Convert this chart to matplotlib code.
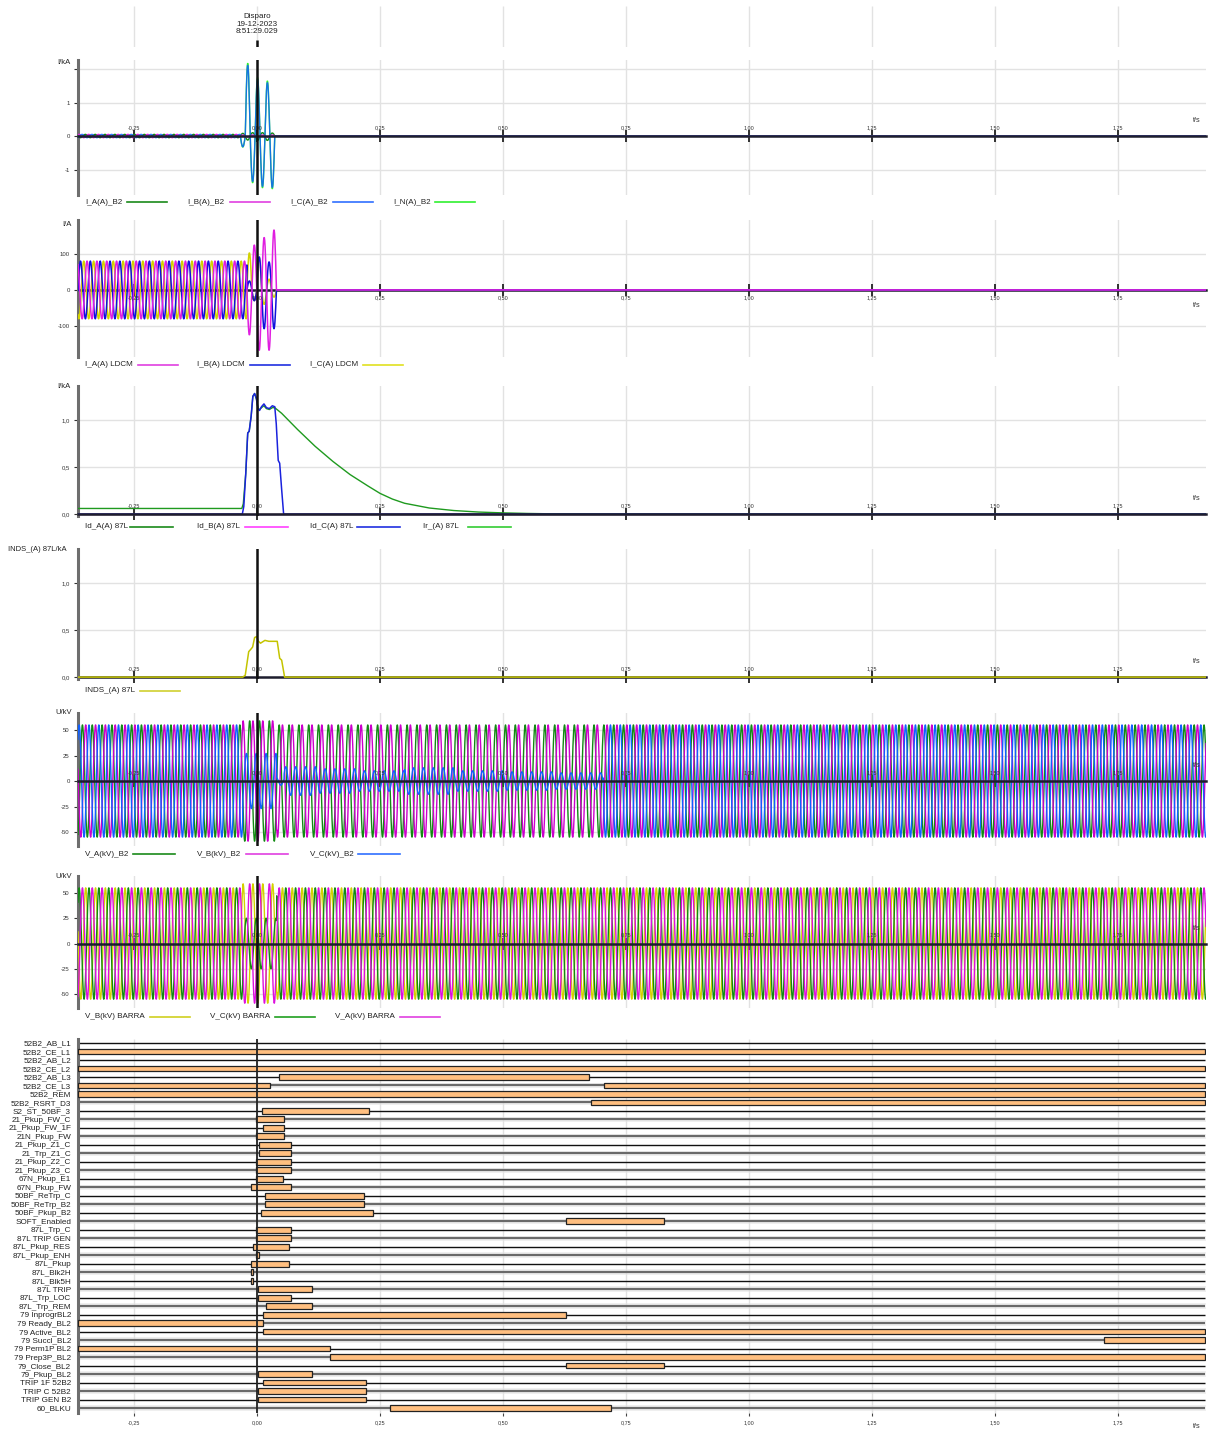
import numpy as np
import matplotlib
matplotlib.use('Agg')
import matplotlib.pyplot as plt
from matplotlib.lines import Line2D

plt.rcParams['font.family'] = ['Liberation Sans', 'DejaVu Sans']

W, H = 1210, 1433
F_HZ = 50
T_MIN, T_MAX = -0.364, 1.929

XTICKS = [-0.25, 0.0, 0.25, 0.5, 0.75, 1.0, 1.25, 1.5, 1.75]
XTICK_LABELS = ['-0,25', '0,00', '0,25', '0,50', '0,75', '1,00', '1,25', '1,50', '1,75']

## ---- panel 1 : I B2 (kA) ----
I_B2_LABELS = ['I_A(A)_B2', 'I_B(A)_B2', 'I_C(A)_B2', 'I_N(A)_B2']
I_B2_PRE_AMP = [0.05, 0.05, 0.05, 0.0]
I_B2_PHASE = [0, -120, 120, 0]
I_B2_FAULT_T0 = -0.029          # centre of first fault half cycle
I_A_B2_FAULT = [0.08, -0.12, 0.10, -0.13, 0.10, -0.13, 0.09]
I_B_B2_FAULT = [0.03, -0.03, 0.03, -0.03, 0.03, -0.03, 0.03]
I_C_B2_FAULT = [-0.32, 2.12, -1.36, 1.70, -1.51, 1.60, -1.54]
I_N_B2_FAULT = [-0.33, 2.18, -1.40, 1.75, -1.55, 1.65, -1.58]

## ---- panel 2 : I LDCM (A) ----
I_LDCM_LABELS = ['I_A(A) LDCM', 'I_B(A) LDCM', 'I_C(A) LDCM']
I_LDCM_PRE_AMP = [80, 80, 80]
I_LDCM_PHASE = [180, 60, 300]
I_LDCM_FAULT_T0 = -0.0156
I_A_LDCM_FAULT = [-125, 125, -168, 146, -168, 167]
I_B_LDCM_FAULT = [25, -30, 92, -108, 78, -108]
I_C_LDCM_FAULT = [103, -30, 90, -40, 30, -20]

## ---- panel 3 : 87L differential / restraint (kA) ----
ID_LABELS = ['Id_A(A) 87L', 'Id_B(A) 87L', 'Id_C(A) 87L', 'Ir_(A) 87L']
ID_C_T = [-0.364, -0.030, -0.027, -0.023, -0.019, -0.016, -0.012, -0.0086, -0.005, -0.0014,
          0.002, 0.005, 0.009, 0.014, 0.019, 0.025, 0.031, 0.036, 0.039, 0.043, 0.046,
          0.050, 0.054, 1.929]
ID_C_V = [0.0, 0.0, 0.08, 0.43, 0.86, 0.88, 1.04, 1.25, 1.28, 1.23,
          1.12, 1.10, 1.14, 1.17, 1.13, 1.12, 1.15, 1.14, 0.96, 0.57, 0.54,
          0.26, 0.0, 0.0]
IR_T = [-0.364, -0.031, -0.028, -0.023, -0.019, -0.016, -0.012, -0.0086, -0.005, -0.0014,
        0.002, 0.005, 0.009, 0.014, 0.019, 0.025, 0.031, 0.036, 0.050, 0.082, 0.118,
        0.154, 0.189, 0.225, 0.25, 0.275, 0.30, 0.35, 0.40, 0.45, 0.50, 0.55, 0.60, 0.70,
        1.929]
IR_V = [0.06, 0.06, 0.11, 0.43, 0.86, 0.88, 1.04, 1.25, 1.28, 1.22,
        1.12, 1.11, 1.13, 1.15, 1.12, 1.11, 1.13, 1.13, 1.07, 0.90, 0.72,
        0.56, 0.42, 0.30, 0.22, 0.16, 0.115, 0.065, 0.038, 0.022, 0.013, 0.007, 0.003, 0.0,
        0.0]

## ---- panel 4 : INDS (kA) ----
INDS_LABEL = 'INDS_(A) 87L'
INDS_T = [-0.364, -0.029, -0.024, -0.017, -0.012, -0.009, -0.005, -0.001, 0.003, 0.007,
          0.016, 0.024, 0.041, 0.046, 0.050, 0.056, 1.929]
INDS_V = [0.0, 0.0, 0.02, 0.27, 0.30, 0.32, 0.42, 0.43, 0.38, 0.36,
          0.39, 0.38, 0.38, 0.20, 0.18, 0.0, 0.0]

## ---- panel 5 : V B2 (kV) ----  amplitude steps (start time, peak kV)
V_B2_LABELS = ['V_A(kV)_B2', 'V_B(kV)_B2', 'V_C(kV)_B2']
V_B2_PHASE = [0, -120, 120]
V_A_B2_STEPS = [(-0.364, 55), (-0.029, 59), (0.040, 55)]
V_B_B2_STEPS = [(-0.364, 55), (-0.029, 59), (0.040, 55)]
V_C_B2_STEPS = [(-0.364, 55), (-0.029, 27), (0.040, 4), (0.055, 14), (0.12, 12),
                (0.20, 10), (0.30, 13), (0.40, 10), (0.50, 9), (0.60, 8), (0.703, 55)]

## ---- panel 6 : V BARRA (kV) ----
V_BAR_LABELS = ['V_B(kV) BARRA', 'V_C(kV) BARRA', 'V_A(kV) BARRA']
V_BAR_PHASE = [-120, 120, 0]
V_B_BAR_STEPS = [(-0.364, 55), (-0.029, 59), (0.040, 55)]
V_C_BAR_STEPS = [(-0.364, 55), (-0.029, 25), (0.040, 55)]
V_A_BAR_STEPS = [(-0.364, 55), (-0.029, 59), (0.040, 55)]

## ---- panel 7 : digital channels ----
DIG_LABELS = ['52B2_AB_L1', '52B2_CE_L1', '52B2_AB_L2', '52B2_CE_L2', '52B2_AB_L3',
              '52B2_CE_L3', '52B2_REM', '52B2_RSRT_D3', 'S2_ST_50BF_3', '21_Pkup_FW_C',
              '21_Pkup_FW_1F', '21N_Pkup_FW', '21_Pkup_Z1_C', '21_Trp_Z1_C', '21_Pkup_Z2_C',
              '21_Pkup_Z3_C', '67N_Pkup_E1', '67N_Pkup_FW', '50BF_ReTrp_C', '50BF_ReTrp_B2',
              '50BF_Pkup_B2', 'SOFT_Enabled', '87L_Trp_C', '87L TRIP GEN', '87L_Pkup_RES',
              '87L_Pkup_ENH', '87L_Pkup', '87L_Blk2H', '87L_Blk5H', '87L TRIP',
              '87L_Trp_LOC', '87L_Trp_REM', '79 InprogrBL2', '79 Ready_BL2', '79 Active_BL2',
              '79 Succl_BL2', '79 Perm1P BL2', '79 Prep3P_BL2', '79_Close_BL2', '79_Pkup_BL2',
              'TRIP 1F 52B2', 'TRIP C 52B2', 'TRIP GEN B2', '60_BLKU']
DIG_ON = [
    [], [(-0.364, 1.927)], [], [(-0.364, 1.927)], [(0.045, 0.675)],
    [(-0.364, 0.026), (0.705, 1.927)], [(-0.364, 1.927)], [(0.679, 1.927)],
    [(0.0095, 0.228)], [(-0.002, 0.055)],
    [(0.013, 0.055)], [(-0.002, 0.055)], [(0.003, 0.070)], [(0.003, 0.070)],
    [(-0.002, 0.070)],
    [(-0.002, 0.070)], [(-0.002, 0.053)], [(-0.013, 0.068)], [(0.016, 0.218)],
    [(0.016, 0.218)],
    [(0.0075, 0.235)], [(0.627, 0.827)], [(-0.002, 0.068)], [(-0.002, 0.068)],
    [(-0.0075, 0.064)],
    [(-0.002, 0.004)], [(-0.012, 0.064)], [(-0.013, -0.0075)], [(-0.013, -0.0075)],
    [(0.001, 0.112)],
    [(0.001, 0.070)], [(0.018, 0.112)], [(0.013, 0.629)], [(-0.364, 0.013)],
    [(0.013, 1.927)],
    [(1.721, 1.927)], [(-0.364, 0.148)], [(0.148, 1.927)], [(0.627, 0.827)],
    [(0.001, 0.112)],
    [(0.013, 0.221)], [(0.001, 0.221)], [(0.001, 0.221)], [(0.270, 0.719)],
]

TRIGGER_TEXT = 'Disparo\n19-12-2023\n8:51:29.029'

# colours
GREEN = '#128a12'
MAGENTA = '#e01ee0'
BLUE = '#1060ff'
DBLUE = '#1010dd'
LIME = '#30f030'
YELLOW = '#d2d200'
GRID = '#e2e2e2'

fig = plt.figure(figsize=(W / 100, H / 100), dpi=100)


def add_ax(l, t, r, b):
    return fig.add_axes([l / W, 1 - b / H, (r - l) / W, (b - t) / H])


def ftext(x, y, s, **kw):
    fig.text(x / W, 1 - y / H, s, **kw)


def fline(x0, x1, y, color, lw=1.2):
    fig.add_artist(Line2D([x0 / W, x1 / W], [1 - y / H, 1 - y / H], color=color, lw=lw,
                          transform=fig.transFigure))


def sine_env(steps, phase, t_end=T_MAX, n=60):
    t = np.linspace(T_MIN, t_end, int((t_end - T_MIN) * F_HZ * n))
    starts = np.array([s[0] for s in steps])
    amps = np.array([s[1] for s in steps])
    idx = np.searchsorted(starts, t, side='right') - 1
    a = amps[np.clip(idx, 0, None)]
    return t, a * np.sin(2 * np.pi * F_HZ * t + np.deg2rad(phase))


def half_cycles(t_first, peaks):
    half = 0.5 / F_HZ
    ts, ys = [], []
    for k, p in enumerate(peaks):
        tc = t_first + k * half
        tt = np.linspace(tc - half / 2, tc + half / 2, 14)
        ts.append(tt)
        ys.append(p * np.cos(np.pi * (tt - tc) / half))
    return np.concatenate(ts), np.concatenate(ys)


def fault_trace(pre_amp, phase, t_first, peaks):
    half = 0.5 / F_HZ
    t_start = t_first - half / 2
    t_pre = np.linspace(T_MIN, t_start, int((t_start - T_MIN) * F_HZ * 60))
    y_pre = pre_amp * np.sin(2 * np.pi * F_HZ * (t_pre - t_start) + np.deg2rad(phase))
    t_f, y_f = half_cycles(t_first, peaks)
    t_end = t_f[-1]
    return (np.concatenate([t_pre, t_f, [t_end, T_MAX]]),
            np.concatenate([y_pre, y_f, [0, 0]]))


def setup_analog(ax, ylim, yticks, yticklabels, labels_above=True, zero_on_top=False):
    ax.set_xlim(T_MIN, T_MAX)
    ax.set_ylim(*ylim)
    ax.spines['top'].set_visible(False)
    ax.spines['right'].set_visible(False)
    ax.spines['left'].set_color('#6e6e6e')
    ax.spines['left'].set_linewidth(2.2)
    ax.spines['bottom'].set_position(('data', 0))
    ax.spines['bottom'].set_color('#1e1e2e')
    ax.spines['bottom'].set_linewidth(1.8)
    ax.spines['bottom'].set_zorder(6 if zero_on_top else 1.5)
    ax.set_xticks(XTICKS)
    ax.tick_params(axis='x', direction='inout', length=9, width=1.3, color='#222',
                   labelbottom=False)
    ax.set_yticks(yticks)
    ax.set_yticklabels(yticklabels)
    ax.tick_params(axis='y', direction='out', length=3, width=0.8, color='#333',
                   labelsize=4.3, labelcolor='#333', pad=3)
    ax.grid(True, color=GRID, lw=1.0)
    ax.set_axisbelow(True)
    dy = 4.2 if labels_above else -4.2
    va = 'bottom' if labels_above else 'top'
    for t, lab in zip(XTICKS, XTICK_LABELS):
        ax.annotate(lab, (t, 0), xytext=(0, dy), textcoords='offset points', ha='center',
                    va=va, fontsize=3.9, color='#333', zorder=7)
    ax.annotate('t/s', (T_MAX, 0), xytext=(-6.5, 11 if labels_above else -11),
                textcoords='offset points', ha='center', va='center', fontsize=5.2,
                color='#333')
    ax.axvline(0, color='#111', lw=1.8, zorder=8)


def legend_row(y, labels, colors, slots):
    for lab, col, (tx, x0, x1) in zip(labels, colors, slots):
        ftext(tx, y, lab, fontsize=5.8, va='center', ha='left', color='#222')
        fline(x0, x1, y, col)


## header with the trigger marker
ax0 = add_ax(78, 6, 1206, 47)
ax0.set_xlim(T_MIN, T_MAX)
ax0.set_ylim(0, 1)
ax0.axis('off')
ax0.vlines(XTICKS, 0, 1, color=GRID, lw=1.0)
ax0.vlines(0, 0, 0.17, color='#111', lw=1.8)
ftext(257, 24, TRIGGER_TEXT, fontsize=5.8, ha='center', va='center', color='#222',
      linespacing=1.05)

## panel 1
ax1 = add_ax(78, 60, 1206, 195)
cols1 = [GREEN, MAGENTA, BLUE, LIME]
faults1 = [I_A_B2_FAULT, I_B_B2_FAULT, I_C_B2_FAULT, I_N_B2_FAULT]
for i in [3, 0, 1, 2]:
    t, y = fault_trace(I_B2_PRE_AMP[i], I_B2_PHASE[i], I_B2_FAULT_T0, faults1[i])
    ax1.plot(t, y, color=cols1[i], lw=1.0, alpha=0.85 if i == 2 else 1.0, zorder=3)
setup_analog(ax1, (-1.76, 2.27), [2, 1, 0, -1], ['', '1', '0', '-1'], zero_on_top=True)
ftext(57, 62, 'I/kA', fontsize=5.5, ha='left', va='center', color='#222')
legend_row(202, I_B2_LABELS, ['#1a8a1a', '#e040e0', '#3070ff', '#30f030'],
           [(85, 127, 167), (187, 230, 270), (290, 333, 373), (393, 435, 475)])

## panel 2
ax2 = add_ax(78, 220, 1206, 357)
cols2 = [MAGENTA, DBLUE, YELLOW]
faults2 = [I_A_LDCM_FAULT, I_B_LDCM_FAULT, I_C_LDCM_FAULT]
for i in [2, 1, 0]:
    t, y = fault_trace(I_LDCM_PRE_AMP[i], I_LDCM_PHASE[i], I_LDCM_FAULT_T0, faults2[i])
    ax2.plot(t, y, color=cols2[i], lw=1.1, zorder=3)
setup_analog(ax2, (-186, 194), [100, 0, -100], ['100', '0', '-100'], labels_above=False)
ftext(62, 224, 'I/A', fontsize=5.5, ha='left', va='center', color='#222')
legend_row(365, I_LDCM_LABELS, ['#e040e0', '#2030e0', '#e0e020'],
           [(85, 138, 178), (197, 250, 290), (310, 363, 403)])

## panel 3
ax3 = add_ax(78, 386, 1206, 516)
ax3.plot([T_MIN, T_MAX], [0, 0], color=GREEN, lw=1.0, zorder=3)
ax3.plot([T_MIN, T_MAX], [0, 0], color='#ff40ff', lw=1.0, zorder=3)
ax3.plot(IR_T, IR_V, color='#1f9a1f', lw=1.0, zorder=3)
ax3.plot(ID_C_T, ID_C_V, color='#1a22dd', lw=1.1, zorder=4)
setup_analog(ax3, (-0.02, 1.36), [1.0, 0.5, 0.0], ['1,0', '0,5', '0,0'], zero_on_top=True)
ftext(57, 387, 'I/kA', fontsize=5.5, ha='left', va='center', color='#222')
legend_row(527, ID_LABELS, ['#1a8a1a', '#ff40ff', '#2030e0', '#33cc33'],
           [(85, 130, 173), (197, 245, 288), (310, 357, 400), (423, 468, 511)])

## panel 4
ax4 = add_ax(78, 549, 1206, 679)
ax4.plot(INDS_T, INDS_V, color='#c4c400', lw=1.1, zorder=3)
setup_analog(ax4, (-0.02, 1.36), [1.0, 0.5, 0.0], ['1,0', '0,5', '0,0'])
ftext(8, 550, 'INDS_(A) 87L/kA', fontsize=5.5, ha='left', va='center', color='#222')
legend_row(691, [INDS_LABEL], ['#d0d030'], [(85, 140, 180)])

## panel 5
ax5 = add_ax(78, 713, 1206, 846)
steps5 = [V_A_B2_STEPS, V_B_B2_STEPS, V_C_B2_STEPS]
cols5 = [GREEN, '#cc00cc', BLUE]
for i in [0, 1, 2]:
    t, y = sine_env(steps5[i], V_B2_PHASE[i])
    ax5.plot(t, y, color=cols5[i], lw=1.0, zorder=3)
setup_analog(ax5, (-63.7, 66.7), [50, 25, 0, -25, -50], ['50', '25', '0', '-25', '-50'],
             zero_on_top=True)
ftext(55, 713, 'U/kV', fontsize=5.5, ha='left', va='center', color='#222')
legend_row(854, V_B2_LABELS, ['#1a8a1a', '#e040e0', '#3070ff'],
           [(85, 133, 175), (197, 246, 288), (310, 358, 400)])

## panel 6
ax6 = add_ax(78, 876, 1206, 1008)
steps6 = [V_B_BAR_STEPS, V_C_BAR_STEPS, V_A_BAR_STEPS]
cols6 = [YELLOW, GREEN, '#dd10dd']
for i in [0, 1, 2]:
    t, y = sine_env(steps6[i], V_BAR_PHASE[i])
    ax6.plot(t, y, color=cols6[i], lw=1.0, zorder=3)
setup_analog(ax6, (-63.7, 66.7), [50, 25, 0, -25, -50], ['50', '25', '0', '-25', '-50'],
             zero_on_top=True)
ftext(55, 876, 'U/kV', fontsize=5.5, ha='left', va='center', color='#222')
legend_row(1017, V_BAR_LABELS, ['#d0d020', '#20a020', '#e040e0'],
           [(85, 150, 190), (210, 275, 315), (335, 400, 440)])

## panel 7 : digital
ax7 = add_ax(78, 1039, 1206, 1413)
n = len(DIG_LABELS)
ax7.set_xlim(T_MIN, T_MAX)
ax7.set_ylim(n - 1 + 0.59, -0.47)
for i in range(n):
    if i % 2 == 1:
        ax7.axhspan(i - 0.32, i + 0.32, color='#efefef', lw=0, zorder=0.5)
        ax7.hlines(i, T_MIN, 1.927, color='#6a6a6a', lw=1.6, zorder=1)
    else:
        ax7.hlines(i, T_MIN, 1.927, color='#111', lw=1.0, zorder=1)
    for (a, b) in DIG_ON[i]:
        ax7.barh(i, b - a, left=a, height=0.68, color='#ffbf80', edgecolor='#222',
                 lw=0.9, zorder=3)
ax7.vlines(XTICKS, -0.47, n - 1 + 0.59, color=GRID, lw=1.0, zorder=0.6)
ax7.axvline(0, color='#222', lw=1.3, zorder=5)
for s in ['top', 'right', 'bottom']:
    ax7.spines[s].set_visible(False)
ax7.spines['left'].set_color('#6e6e6e')
ax7.spines['left'].set_linewidth(2.2)
ax7.set_yticks(range(n))
ax7.set_yticklabels(DIG_LABELS)
ax7.tick_params(axis='y', length=0, labelsize=5.9, labelcolor='#222', pad=5)
ax7.set_xticks(XTICKS)
ax7.set_xticklabels(XTICK_LABELS)
ax7.tick_params(axis='x', length=2.5, width=0.8, color='#444', labelsize=3.9,
                labelcolor='#333', pad=3)
ftext(1197, 1427, 't/s', fontsize=5.2, ha='center', va='center', color='#333')

fig.savefig('out.png', dpi=100)
